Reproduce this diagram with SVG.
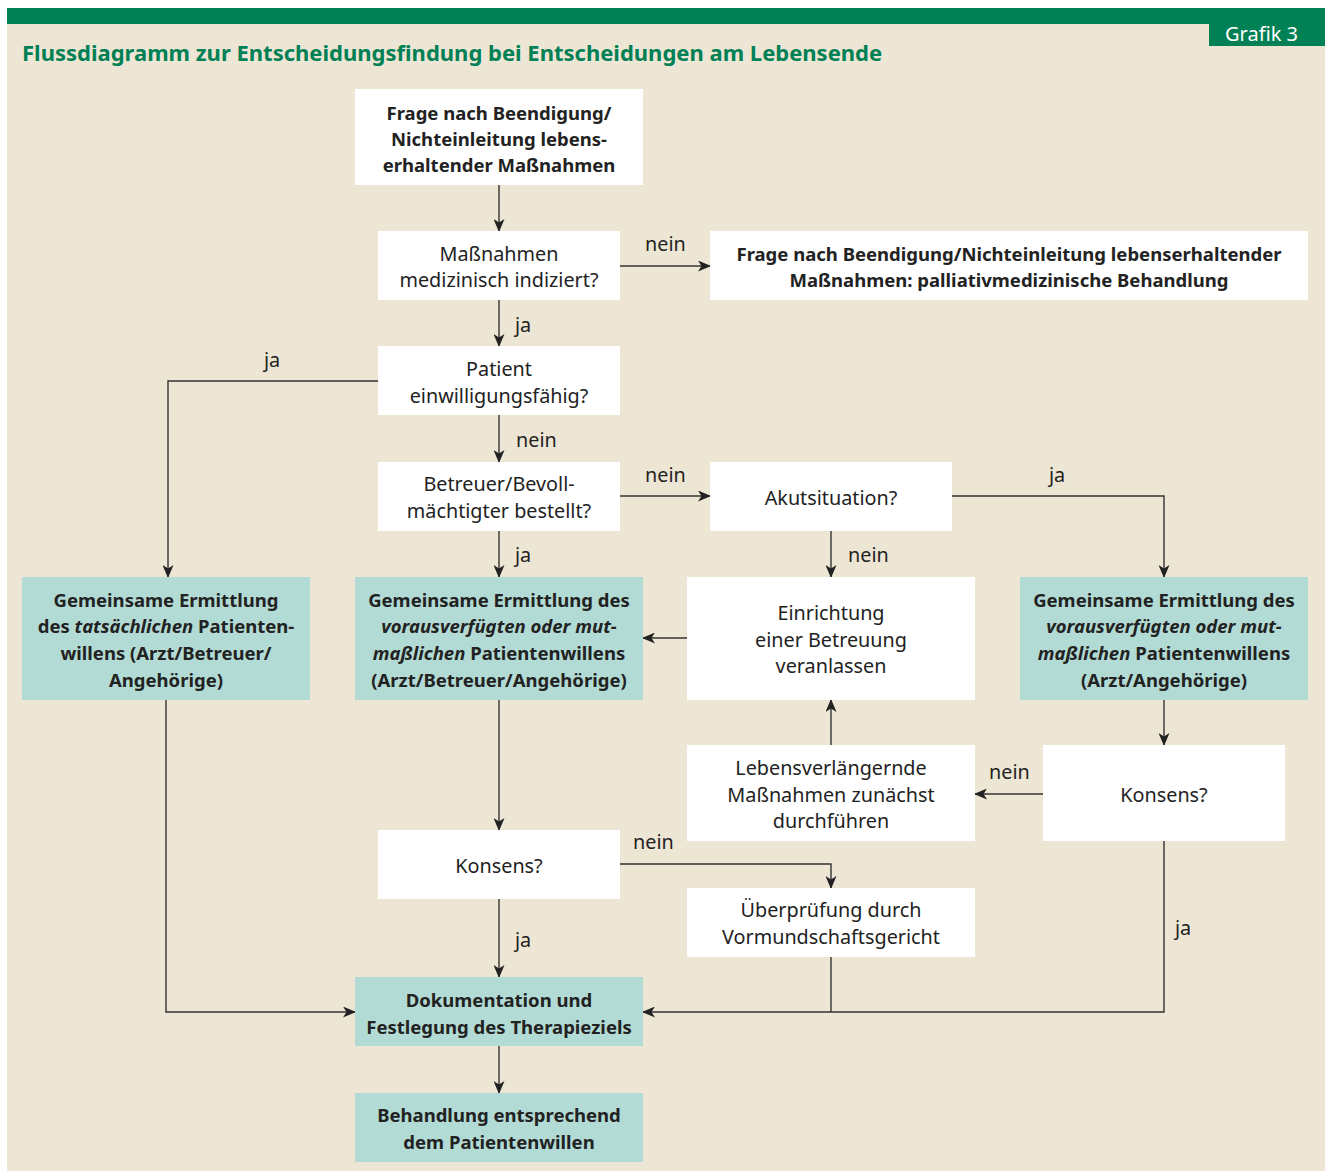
<svg xmlns="http://www.w3.org/2000/svg" width="1325" height="1171" viewBox="0 0 1325 1171">
<style>
text{font-family:"Noto Sans","Open Sans",sans-serif;fill:#222;font-size:19.8px;text-anchor:middle}
.b{font-weight:bold;font-size:18.5px}
.title{font-size:22px;fill:#008055;font-weight:bold;text-anchor:start}
.tab{fill:#fff;font-size:20px;text-anchor:start}
.w{fill:#fff}
.t{fill:#b3dbd5}
.lbl{text-anchor:start}
.c{fill:none;stroke:#333;stroke-width:1.4}
</style>
<defs>
<marker id="ah" viewBox="0 0 13 11" refX="12" refY="5.5" markerWidth="13" markerHeight="11" markerUnits="userSpaceOnUse" orient="auto">
<path d="M0,0 L13,5.5 L0,11 L3.5,5.5 Z" fill="#222"/>
</marker>
</defs>
<rect x="7" y="24" width="1318" height="1147" fill="#eee6d4"/>
<rect x="7" y="8" width="1318" height="16" fill="#008055"/>
<rect x="1209" y="24" width="116" height="22" fill="#008055"/>
<text class="tab" x="1225" y="41">Grafik 3</text>
<text class="title" x="22" y="61">Flussdiagramm zur Entscheidungsfindung bei Entscheidungen am Lebensende</text>

<g id="connectors">
<path class="c" d="M499,185 V231" marker-end="url(#ah)"/>
<path class="c" d="M620,266 H710" marker-end="url(#ah)"/>
<path class="c" d="M499,300 V346" marker-end="url(#ah)"/>
<path class="c" d="M378,381 H168 V577" marker-end="url(#ah)"/>
<path class="c" d="M499,415 V462" marker-end="url(#ah)"/>
<path class="c" d="M620,496 H710" marker-end="url(#ah)"/>
<path class="c" d="M952,496 H1164 V577" marker-end="url(#ah)"/>
<path class="c" d="M499,531 V577" marker-end="url(#ah)"/>
<path class="c" d="M831,531 V577" marker-end="url(#ah)"/>
<path class="c" d="M687,638 H643" marker-end="url(#ah)"/>
<path class="c" d="M831,745 V700" marker-end="url(#ah)"/>
<path class="c" d="M1043,794 H975" marker-end="url(#ah)"/>
<path class="c" d="M1164,700 V745" marker-end="url(#ah)"/>
<path class="c" d="M499,700 V830" marker-end="url(#ah)"/>
<path class="c" d="M620,864 H831 V888" marker-end="url(#ah)"/>
<path class="c" d="M499,899 V977" marker-end="url(#ah)"/>
<path class="c" d="M166,700 V1012 H355" marker-end="url(#ah)"/>
<path class="c" d="M1164,841 V1012 H643" marker-end="url(#ah)"/>
<path class="c" d="M831,957 V1012"/>
<path class="c" d="M499,1046 V1093" marker-end="url(#ah)"/>
<text class="lbl" x="645" y="251">nein</text>
<text class="lbl" x="515" y="332">ja</text>
<text class="lbl" x="264" y="367">ja</text>
<text class="lbl" x="516" y="447">nein</text>
<text class="lbl" x="645" y="482">nein</text>
<text class="lbl" x="1049" y="482">ja</text>
<text class="lbl" x="515" y="562">ja</text>
<text class="lbl" x="848" y="562">nein</text>
<text class="lbl" x="989" y="779">nein</text>
<text class="lbl" x="633" y="849">nein</text>
<text class="lbl" x="515" y="947">ja</text>
<text class="lbl" x="1175" y="935">ja</text>
</g>

<g id="n1"><rect class="w" x="355" y="89" width="288" height="96"/>
<text class="b" x="499" y="120">Frage nach Beendigung/</text>
<text class="b" x="499" y="146">Nichteinleitung lebens-</text>
<text class="b" x="499" y="172">erhaltender Maßnahmen</text></g>

<g id="n2"><rect class="w" x="378" y="231" width="242" height="69"/>
<text x="499" y="261">Maßnahmen</text>
<text x="499" y="287">medizinisch indiziert?</text></g>

<g id="n3"><rect class="w" x="710" y="231" width="598" height="69"/>
<text class="b" x="1009" y="261">Frage nach Beendigung/Nichteinleitung lebenserhaltender</text>
<text class="b" x="1009" y="287">Maßnahmen: palliativmedizinische Behandlung</text></g>

<g id="n4"><rect class="w" x="378" y="346" width="242" height="69"/>
<text x="499" y="376">Patient</text>
<text x="499" y="403">einwilligungsfähig?</text></g>

<g id="n5"><rect class="w" x="378" y="462" width="242" height="69"/>
<text x="499" y="491">Betreuer/Bevoll-</text>
<text x="499" y="518">mächtigter bestellt?</text></g>

<g id="n6"><rect class="w" x="710" y="462" width="242" height="69"/>
<text x="831" y="505">Akutsituation?</text></g>

<g id="n7"><rect class="t" x="22" y="577" width="288" height="123"/>
<text class="b" x="166" y="607">Gemeinsame Ermittlung</text>
<text class="b" x="166" y="633">des <tspan font-style="italic">tatsächlichen</tspan> Patienten-</text>
<text class="b" x="166" y="660">willens (Arzt/Betreuer/</text>
<text class="b" x="166" y="687">Angehörige)</text></g>

<g id="n8"><rect class="t" x="355" y="577" width="288" height="123"/>
<text class="b" x="499" y="607">Gemeinsame Ermittlung des</text>
<text class="b" x="499" y="633" font-style="italic">vorausverfügten oder mut-</text>
<text class="b" x="499" y="660"><tspan font-style="italic">maßlichen</tspan> Patientenwillens</text>
<text class="b" x="499" y="687">(Arzt/Betreuer/Angehörige)</text></g>

<g id="n9"><rect class="w" x="687" y="577" width="288" height="123"/>
<text x="831" y="620">Einrichtung</text>
<text x="831" y="647">einer Betreuung</text>
<text x="831" y="673">veranlassen</text></g>

<g id="n10"><rect class="t" x="1020" y="577" width="288" height="123"/>
<text class="b" x="1164" y="607">Gemeinsame Ermittlung des</text>
<text class="b" x="1164" y="633" font-style="italic">vorausverfügten oder mut-</text>
<text class="b" x="1164" y="660"><tspan font-style="italic">maßlichen</tspan> Patientenwillens</text>
<text class="b" x="1164" y="687">(Arzt/Angehörige)</text></g>

<g id="n11"><rect class="w" x="687" y="745" width="288" height="96"/>
<text x="831" y="775">Lebensverlängernde</text>
<text x="831" y="802">Maßnahmen zunächst</text>
<text x="831" y="828">durchführen</text></g>

<g id="n12"><rect class="w" x="1043" y="745" width="242" height="96"/>
<text x="1164" y="802">Konsens?</text></g>

<g id="n13"><rect class="w" x="378" y="830" width="242" height="69"/>
<text x="499" y="873">Konsens?</text></g>

<g id="n14"><rect class="w" x="687" y="888" width="288" height="69"/>
<text x="831" y="917">Überprüfung durch</text>
<text x="831" y="944">Vormundschaftsgericht</text></g>

<g id="n15"><rect class="t" x="355" y="977" width="288" height="69"/>
<text class="b" x="499" y="1007">Dokumentation und</text>
<text class="b" x="499" y="1034">Festlegung des Therapieziels</text></g>

<g id="n16"><rect class="t" x="355" y="1093" width="288" height="69"/>
<text class="b" x="499" y="1122">Behandlung entsprechend</text>
<text class="b" x="499" y="1149">dem Patientenwillen</text></g>
</svg>
